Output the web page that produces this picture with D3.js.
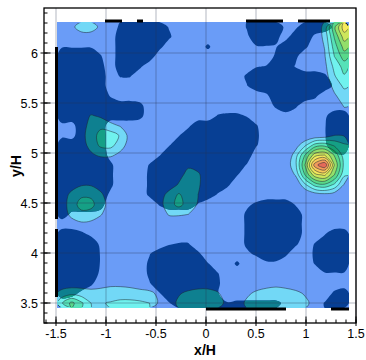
<!DOCTYPE html>
<html>
<head>
<meta charset="utf-8">
<script src="https://cdn.jsdelivr.net/npm/d3@7"></script>
<style>
  body { margin: 0; background: #fff; }
  svg text { font-family: "Liberation Sans", Arial, sans-serif; fill: #000; }
</style>
</head>
<body>
<div id="chart"></div>
<script>
// ---- values ----
const xTicks = [-1.5, -1, -0.5, 0, 0.5, 1, 1.5];
const xTickLabels = ["-1.5", "-1", "-0.5", "0", "0.5", "1", "1.5"];
const yTicks = [3.5, 4, 4.5, 5, 5.5, 6];
const yTickLabels = ["3.5", "4", "4.5", "5", "5.5", "6"];

// sampled area of the field (data units)
const fieldX = [-1.49, 1.43];
const fieldY = [3.45, 6.31];

// contour levels and their flood colours
const levels = [1, 2, 3, 4, 5, 6, 7, 8, 9, 10];
const baseColor = "#6a9cf7";
const levelColors = ["#72d8f6", "#70f2ee", "#56e2b8", "#58d88a", "#93df6a",
                     "#cde65c", "#f5ea5c", "#f7c85a", "#f29a5c", "#e46a5a"];
// same levels where the dark regions lie over them
const darkColor = "#073f94";
const shadeColors = ["#0e8090", "#15a085", "#14a070", "#15a052", "#44a83c",
                     "#7aae30", "#a8ae2c", "#b09030", "#b06a34", "#a84a38"];

// contour variable, one row per ~0.1 in y, from top (y=6.31) to bottom
const fieldRows = [
  [0,0.8,1.4,1.4,0.8,0.2,0,0,0,0,0,0,0,0,0,0,0,0,0,0,0,0,0,0,0,0,0.3,1.3,4.8,7.6],
  [0,0.3,0.6,0.6,0.3,0,0,0,0,0,0,0,0,0,0,0,0,0,0,0,0,0,0,0,0,0,0.3,1.25,4.1,6.5],
  [0,0,0,0,0,0,0,0,0,0,0,0,0,0,0,0,0,0,0,0,0,0,0,0,0,0,0.25,1.05,3.5,5.4],
  [0,0,0,0,0,0,0,0,0,0,0,0,0,0,0,0,0,0,0,0,0,0,0,0,0,0,0.2,0.9,3.0,4.5],
  [0,0,0,0,0,0,0,0,0,0,0,0,0,0,0,0,0,0,0,0,0,0,0,0,0,0,0.1,0.7,2.3,3.4],
  [0,0,0,0,0,0,0,0,0,0,0,0,0,0,0,0,0,0,0,0,0,0,0,0,0,0,0,0.5,1.9,2.9],
  [0,0,0,0,0,0,0,0,0,0,0,0,0,0,0,0,0,0,0,0,0,0,0,0,0,0,0,0.3,1.3,2.2],
  [0,0,0,0,0,0,0,0,0,0,0,0,0,0,0,0,0,0,0,0,0,0,0,0,0,0,0,0.15,0.85,1.5],
  [0,0,0,0,0,0,0,0,0,0,0,0,0,0,0,0,0,0,0,0,0,0,0,0,0,0,0,0,0.55,1.05],
  [0,0,0.3,1.1,0.8,0.3,0,0,0,0,0,0,0,0,0,0,0,0,0,0,0,0,0,0,0,0,0,0,0.3,0.7],
  [0,0,0.5,1.4,1.8,1.3,0.9,0.2,0,0,0,0,0,0,0,0,0,0,0,0,0,0,0,0,0,0,0,0,0.5,0.6],
  [0,0,0.6,1.6,2.3,2.5,1.9,0.6,0,0,0,0,0,0,0,0,0,0,0,0,0,0,0,0,0,0,0.2,0.35,1.0,0.9],
  [0,0,0.5,1.4,2.2,2.3,1.5,0.5,0,0,0,0,0,0,0,0,0,0,0,0,0,0,0,0,0.5,1.84,3.46,3.7,2.8,2.2],
  [0,0,0.2,0.8,1.2,1.2,0.7,0,0,0,0,0,0,0,0,0,0,0,0,0,0,0,0,0,1.5,4.1,6.6,7.0,4.9,2.4],
  [0,0,0,0,0,0,0,0,0,0,0,0,0.3,0.8,0.5,0,0,0,0,0,0,0,0,0.3,1.74,5.1,9.6,11.0,6.0,2.7],
  [0,0,0,0,0,0,0,0,0,0,0,0,0.6,1.4,1.2,0.2,0,0,0,0,0,0,0,0,1.1,4.1,6.6,7.2,5.0,2.2],
  [0,0.5,0.9,0.9,0.5,0,0,0,0,0,0,0.4,1.1,1.5,1.2,0.2,0,0,0,0,0,0,0,0,0,1.84,3.4,3.8,2.8,0.9],
  [0.4,1.3,1.8,1.8,1.2,0.3,0,0,0,0,0.4,1.4,2.1,1.6,1.0,0.1,0,0,0,0,0,0,0,0,0,0,0.5,0.7,0.5,0],
  [0.5,1.5,2.4,2.3,1.4,0.6,0,0,0,0,0.6,1.6,2.3,1.6,0.9,0,0,0,0,0,0,0,0,0,0,0,0,0,0,0],
  [0.4,1.3,1.7,1.6,1.1,0.2,0,0,0,0,0.3,1.1,1.1,1.0,0.4,0,0,0,0,0,0,0,0,0,0,0,0,0,0,0],
  [0,0.5,0.8,0.7,0.3,0,0,0,0,0,0,0.3,0.4,0.2,0,0,0,0,0,0,0,0,0,0,0,0,0,0,0,0],
  [0,0,0,0,0,0,0,0,0,0,0,0,0,0,0,0,0,0,0,0,0,0,0,0,0,0,0,0,0,0],
  [0,0,0,0,0,0,0,0,0,0,0,0,0,0,0,0,0,0,0,0,0,0,0,0,0,0,0,0,0,0],
  [0,0,0,0,0,0,0,0,0,0,0,0,0,0,0,0,0,0,0,0,0,0,0,0,0,0,0,0,0,0],
  [0,0,0,0,0,0,0,0,0,0,0,0,0,0,0,0,0,0,0,0,0,0,0,0,0,0,0,0,0,0],
  [0,0,0,0,0,0,0,0,0,0,0,0,0,0,0,0,0,0,0,0,0,0,0,0,0,0,0,0,0,0],
  [0.5,0.5,0.6,0.7,0.8,0.85,0.8,0.7,0.55,0.4,0.2,0,0,0.4,0.6,0.6,0.4,0,0,0,0.4,0.6,0.7,0.6,0.5,0.2,0,0,0,0],
  [1.3,1.6,1.4,1.2,1.2,1.3,1.4,1.4,1.3,1.2,0.8,0.5,0.9,1.2,1.3,1.3,1.1,0.5,0.2,0.8,1.2,1.4,1.5,1.4,1.2,0.9,0.4,0,0,0],
  [2.9,4.3,3.2,2.0,1.9,2.1,2.3,2.3,2.2,2.0,0.8,0.5,1.2,1.4,1.5,1.5,1.3,0.8,0.5,1.2,1.5,1.6,1.6,1.5,1.4,1.2,0.7,0.3,0,0]
];

// dark regions on the same cells: '#' = inside, '.' = outside, digit d = d/9
const darkRows = [
  "......6####4.......5###33###3.",
  "......#####6.......3##62##3...",
  "44442.####7....6....444##6....",
  "####5.####............6#6.....",
  "####7.##6...........45##4.....",
  "#####.55...........6#######6..",
  "#####..............4########3.",
  "#####4...............3####6...",
  "########7.............6#6.....",
  "########7.......5664...2...3##",
  "32###........3######5......4##",
  "32###.......4#######6......4##",
  "#####......4########5......3##",
  "#####2....4#########........34",
  "#####6...5#########4..........",
  "#####6...6########5...........",
  "#####6...6#######6............",
  "#####3...6######4.............",
  "####7.....5###4....36###4.....",
  "#3332..............6#####2....",
  "...................6#####2....",
  "##63...............6#####2.4##",
  "####3......455.....6####6.5###",
  "####4....4####6....36##6..6###",
  "####4....6#####5..6..33...5###",
  "####3....6######5..........444",
  "###6.....4######6.............",
  "#73.......4#####5...........6#",
  "...........4####55666663...5##"
];

// thick black pieces on the boundary of the sampled area
const topBars = [[-1.01, -0.84], [-0.69, -0.63], [0.40, 0.77], [0.92, 1.24]];
const bottomBars = [[0.0, 0.8], [1.25, 1.43]];
const leftBars = [[3.56, 4.24], [4.34, 6.06]];

// ---- drawing ----
const width = 366, height = 360;
const svg = d3.select("#chart").append("svg")
  .attr("width", width)
  .attr("height", height);

const x = d3.scaleLinear().domain([-1.62, 1.5]).range([44, 356]);
const y = d3.scaleLinear().domain([3.3, 6.45]).range([323, 8]);

const nx = fieldRows[0].length, ny = fieldRows.length;
// grid coordinates of d3.contours -> pixels
const gx = d3.scaleLinear().domain([0, nx]).range([x(fieldX[0]), x(fieldX[1])]);
const gy = d3.scaleLinear().domain([0, ny]).range([y(fieldY[1]), y(fieldY[0])]);

const ringLine = d3.line()
  .x(p => gx(p[0]))
  .y(p => gy(p[1]))
  .curve(d3.curveCatmullRomClosed.alpha(0.5));

function contourPath(geom) {
  return geom.coordinates
    .map(poly => poly.map(ring => ringLine(ring.slice(0, -1))).join(""))
    .join("");
}

const fieldContours = d3.contours()
  .size([nx, ny])
  .thresholds(levels)
  .smooth(true)(fieldRows.flat());

const darkValues = darkRows.flatMap(r =>
  Array.from(r, ch => ch === "#" ? 1 : ch === "." ? 0 : +ch / 9));
const darkShape = d3.contours()
  .size([nx, ny])
  .thresholds([0.5])
  .smooth(true)(darkValues)[0];

const px0 = x(fieldX[0]), px1 = x(fieldX[1]);
const py0 = y(fieldY[1]), py1 = y(fieldY[0]);

const defs = svg.append("defs");
defs.append("clipPath").attr("id", "plotClip")
  .append("rect")
  .attr("x", px0).attr("y", py0)
  .attr("width", px1 - px0).attr("height", py1 - py0);
defs.append("clipPath").attr("id", "lineClip")
  .append("rect")
  .attr("x", px0 + 1).attr("y", py0 + 1)
  .attr("width", px1 - px0 - 2).attr("height", py1 - py0 - 2);
defs.append("clipPath").attr("id", "darkClip")
  .append("path")
  .attr("clip-rule", "evenodd")
  .attr("d", contourPath(darkShape));

const plot = svg.append("g").attr("clip-path", "url(#plotClip)");

// flood
plot.append("rect")
  .attr("x", px0).attr("y", py0)
  .attr("width", px1 - px0).attr("height", py1 - py0)
  .attr("fill", baseColor);
plot.append("g")
  .selectAll("path")
  .data(fieldContours)
  .join("path")
  .attr("d", d => contourPath(d))
  .attr("fill-rule", "evenodd")
  .attr("fill", (d, i) => levelColors[i]);

// dark regions
const shade = plot.append("g").attr("clip-path", "url(#darkClip)");
shade.append("rect")
  .attr("x", px0).attr("y", py0)
  .attr("width", px1 - px0).attr("height", py1 - py0)
  .attr("fill", darkColor);
shade.selectAll("path")
  .data(fieldContours)
  .join("path")
  .attr("d", d => contourPath(d))
  .attr("fill-rule", "evenodd")
  .attr("fill", (d, i) => shadeColors[i]);

// contour lines
plot.append("g")
  .attr("clip-path", "url(#lineClip)")
  .selectAll("path")
  .data(fieldContours)
  .join("path")
  .attr("d", d => contourPath(d))
  .attr("fill", "none")
  .attr("stroke", "#1c2630")
  .attr("stroke-width", 0.6)
  .attr("stroke-opacity", 0.85);

// grid
const grid = svg.append("g")
  .attr("stroke", "#2a3550")
  .attr("stroke-opacity", 0.45)
  .attr("stroke-width", 0.8);
grid.selectAll("line.v")
  .data(xTicks)
  .join("line")
  .attr("x1", d => x(d)).attr("x2", d => x(d))
  .attr("y1", y(6.45)).attr("y2", y(3.3));
grid.selectAll("line.h")
  .data(yTicks)
  .join("line")
  .attr("class", "h")
  .attr("x1", x(-1.62)).attr("x2", x(1.5))
  .attr("y1", d => y(d)).attr("y2", d => y(d));

// boundary bars
const bars = svg.append("g").attr("stroke", "#000").attr("stroke-width", 3);
bars.selectAll("line.t")
  .data(topBars)
  .join("line")
  .attr("class", "t")
  .attr("x1", d => x(d[0])).attr("x2", d => x(d[1]))
  .attr("y1", py0 - 1).attr("y2", py0 - 1);
bars.selectAll("line.b")
  .data(bottomBars)
  .join("line")
  .attr("class", "b")
  .attr("x1", d => x(d[0])).attr("x2", d => x(d[1]))
  .attr("y1", py1 + 1).attr("y2", py1 + 1);
bars.selectAll("line.l")
  .data(leftBars)
  .join("line")
  .attr("class", "l")
  .attr("x1", px0 - 0.5).attr("x2", px0 - 0.5)
  .attr("y1", d => y(d[0])).attr("y2", d => y(d[1]));

// frame
svg.append("rect")
  .attr("x", 44).attr("y", 8)
  .attr("width", 312).attr("height", 315)
  .attr("fill", "none")
  .attr("stroke", "#000")
  .attr("stroke-width", 1.3);

// ticks
const ticks = svg.append("g").attr("stroke", "#000").attr("stroke-width", 1);
const xMinor = d3.range(-16, 16).map(i => i / 10);
const yMinor = d3.range(33, 65).map(i => i / 10);
ticks.selectAll("line.xm")
  .data(xMinor)
  .join("line")
  .attr("class", "xm")
  .attr("x1", d => x(d)).attr("x2", d => x(d))
  .attr("y1", 323).attr("y2", 319.5);
ticks.selectAll("line.xM")
  .data(xTicks)
  .join("line")
  .attr("class", "xM")
  .attr("x1", d => x(d)).attr("x2", d => x(d))
  .attr("y1", 326).attr("y2", 316.5);
ticks.selectAll("line.ym")
  .data(yMinor)
  .join("line")
  .attr("class", "ym")
  .attr("x1", 44).attr("x2", 47.5)
  .attr("y1", d => y(d)).attr("y2", d => y(d));
ticks.selectAll("line.yM")
  .data(yTicks)
  .join("line")
  .attr("class", "yM")
  .attr("x1", 40.5).attr("x2", 50.5)
  .attr("y1", d => y(d)).attr("y2", d => y(d));

// tick labels
svg.append("g").selectAll("text")
  .data(xTicks)
  .join("text")
  .attr("x", d => x(d))
  .attr("y", 338)
  .attr("text-anchor", "middle")
  .attr("font-size", 12.5)
  .text((d, i) => xTickLabels[i]);
svg.append("g").selectAll("text")
  .data(yTicks)
  .join("text")
  .attr("x", 38)
  .attr("y", d => y(d) + 4.5)
  .attr("text-anchor", "end")
  .attr("font-size", 12.5)
  .text((d, i) => yTickLabels[i]);

// axis titles
svg.append("text")
  .attr("x", 205).attr("y", 355)
  .attr("text-anchor", "middle")
  .attr("font-size", 14)
  .attr("font-weight", "bold")
  .text("x/H");
svg.append("text")
  .attr("transform", "translate(21,166) rotate(-90)")
  .attr("text-anchor", "middle")
  .attr("font-size", 14)
  .attr("font-weight", "bold")
  .text("y/H");
</script>
</body>
</html>
